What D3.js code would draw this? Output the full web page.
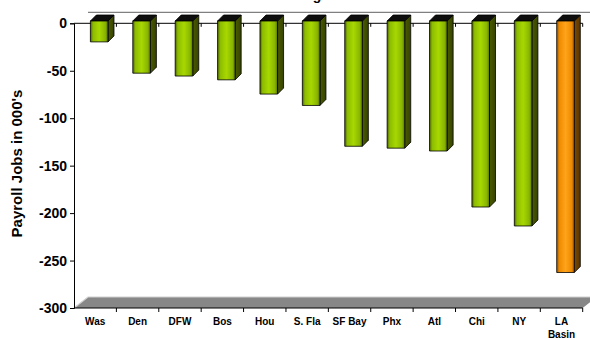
<!DOCTYPE html>
<html><head><meta charset="utf-8">
<script src="https://cdn.jsdelivr.net/npm/d3@7"></script>
<style>body{margin:0;background:#fff}svg{display:block;font-family:Arial,"Liberation Sans",sans-serif}</style>
</head><body>
<svg id="c" width="590" height="339"></svg>
<script>
const categories = ["Was","Den","DFW","Bos","Hou","S. Fla","SF Bay","Phx","Atl","Chi","NY","LA Basin"];
const values = [-22,-55,-58,-62,-77,-89,-132,-134,-137,-196,-216,-265];
const highlight = ["LA Basin"];
const yTicks = [0,-50,-100,-150,-200,-250,-300];
const title = "Net Job Change";
const yTitle = "Payroll Jobs in 000's";

const svg = d3.select("#c");
const x = d3.scaleBand().domain(categories).range([74, 582.7]).padding(0);
const y = d3.scaleLinear().domain([0, -300]).range([23.3, 308]);
const bw = x.bandwidth();
const floorD = {dx: 14, dy: -11};
const barOff = {dx: 4, dy: -2.3};
const barD = {dx: 6, dy: -6};
const barW = 17.6;

const defs = svg.append("defs");
function hgrad(id, stops){
  const g = defs.append("linearGradient").attr("id", id).attr("x1",0).attr("x2",1).attr("y1",0).attr("y2",0);
  stops.forEach(s => g.append("stop").attr("offset", s[0]).attr("stop-color", s[1]));
}
hgrad("gFront", [[0,"#4f6300"],[0.15,"#8cbc00"],[0.5,"#a8d800"],[0.85,"#88b500"],[1,"#596f00"]]);
hgrad("gSide", [[0,"#4a5c00"],[1,"#364300"]]);
hgrad("oFront", [[0,"#9c5800"],[0.15,"#ee8a00"],[0.5,"#ffa41c"],[0.85,"#ee8a00"],[1,"#9a5600"]]);
hgrad("oSide", [[0,"#7a4a00"],[1,"#5a3500"]]);

// title (mostly above the visible area, as in the reference)
svg.append("text").attr("x", 329).attr("y", -0.5).attr("text-anchor","end")
  .attr("font-weight","bold").attr("font-size", 14).text(title);

// back wall top edge
svg.append("line").attr("x1", 74 + floorD.dx).attr("x2", 600).attr("y1", y(0) + floorD.dy).attr("y2", y(0) + floorD.dy)
  .attr("stroke","#808080").attr("stroke-width",1.2);

// floor
const y0 = y(-300), xl = x.range()[0], xr = x.range()[1];
svg.append("path").attr("d", `M${xl},${y0}L${xl+floorD.dx},${y0+floorD.dy}L${xr+floorD.dx},${y0+floorD.dy}L${xr},${y0}Z`)
  .attr("fill","#878787");
svg.append("path").attr("d", `M${xl},${y0}L${xl+floorD.dx},${y0+floorD.dy}L${xr+floorD.dx},${y0+floorD.dy}`)
  .attr("fill","none").attr("stroke","#d0d0d0").attr("stroke-width",1.2);

// zero line with ticks
svg.append("line").attr("x1", xl).attr("x2", xr).attr("y1", y(0)).attr("y2", y(0)).attr("stroke","#000");
categories.forEach(c => {
  svg.append("line").attr("x1", x(c)+bw).attr("x2", x(c)+bw).attr("y1", y(0)).attr("y2", y(0)+3.5).attr("stroke","#000");
});

// bars
const bars = svg.append("g");
categories.forEach((c, i) => {
  const v = values[i];
  const hl = highlight.includes(c);
  const x0 = x(c) + bw/2 - barW/2 + barOff.dx;
  const yt = y(0) + barOff.dy;
  const yb = y(v) + barOff.dy;
  const g = bars.append("g").attr("stroke","#000").attr("stroke-width",0.8).attr("stroke-linejoin","round");
  g.append("path").attr("d", `M${x0+barW},${yt}L${x0+barW+barD.dx},${yt+barD.dy}L${x0+barW+barD.dx},${yb+barD.dy}L${x0+barW},${yb}Z`)
    .attr("fill", hl ? "url(#oSide)" : "url(#gSide)");
  g.append("path").attr("d", `M${x0},${yt}L${x0+barD.dx},${yt+barD.dy}L${x0+barW+barD.dx},${yt+barD.dy}L${x0+barW},${yt}Z`)
    .attr("fill", "#0d0d0d");
  g.append("rect").attr("x", x0).attr("y", yt).attr("width", barW).attr("height", yb - yt)
    .attr("fill", hl ? "url(#oFront)" : "url(#gFront)");
});

// y axis
const ya = svg.append("g").attr("transform", `translate(${xl},0)`)
  .call(d3.axisLeft(y).tickValues(yTicks).tickSize(4).tickPadding(3).tickFormat(d => String(d)));
ya.select(".domain").attr("stroke","#000");
ya.selectAll("text").attr("font-size", 14).attr("font-weight","bold").attr("font-family","Arial, 'Liberation Sans', sans-serif").attr("fill","#000");

// bottom axis
svg.append("line").attr("x1", xl).attr("x2", xr).attr("y1", y0).attr("y2", y0).attr("stroke","#000");
categories.forEach(c => {
  svg.append("line").attr("x1", x(c)+bw).attr("x2", x(c)+bw).attr("y1", y0).attr("y2", y0+4).attr("stroke","#000");
});
categories.forEach(c => {
  const words = c === "LA Basin" ? ["LA","Basin"] : [c];
  const t = svg.append("text").attr("x", x(c)+bw/2).attr("y", 325).attr("text-anchor","middle")
    .attr("font-size", 10).attr("font-weight","bold");
  words.forEach((w, k) => t.append("tspan").attr("x", x(c)+bw/2).attr("dy", k ? 13.3 : 0).text(w));
});

// y title
svg.append("text").attr("transform", "translate(22,163.5) rotate(-90)").attr("text-anchor","middle")
  .attr("font-size", 15).attr("font-weight","bold").text(yTitle);
</script>
</body></html>
